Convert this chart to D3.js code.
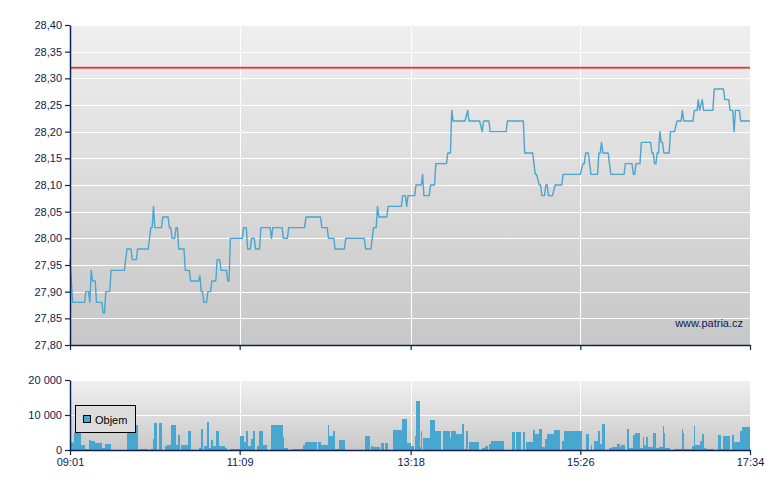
<!DOCTYPE html>
<html><head><meta charset="utf-8">
<script src="https://cdn.jsdelivr.net/npm/d3@7"></script>
<style>
html,body{margin:0;padding:0;background:#fff;}
svg{display:block;font-family:"Liberation Sans",Arial,sans-serif;}
</style></head>
<body>
<svg id="c" width="780" height="490"></svg>
<script>
// ---- DATA ----
const startTime = "09:01";
const xTickLabels = ["09:01","11:09","13:18","15:26","17:34"];
const xTickMinutes = [0,128,257,385,513];
const priceTicks = [27.80,27.85,27.90,27.95,28.00,28.05,28.10,28.15,28.20,28.25,28.30,28.35,28.40];
const volumeTicks = [0,10000,20000];
const referencePrice = 28.32;
const priceMin = [0,2,11,12,14,15,16,17,19,20,24,25,26,27,30,31,41,43,46,47,50,51,59,61,62,63,64,69,70,74,75,76,77,79,80,81,82,86,87,90,91,97,98,99,100,101,103,104,106,107,110,111,113,114,118,119,120,121,130,131,133,134,136,137,139,140,143,144,151,152,153,160,161,164,165,177,178,189,190,194,195,199,200,207,208,222,223,227,229,231,232,233,239,240,250,251,253,254,255,260,261,265,266,267,271,272,275,276,284,285,287,288,289,298,300,301,309,311,312,316,317,329,330,342,343,349,351,352,354,355,356,358,359,360,361,364,366,371,372,385,387,388,389,391,393,398,399,400,401,402,406,408,418,419,424,425,426,427,430,431,438,439,440,441,442,443,444,445,446,447,448,452,453,456,458,461,462,463,470,471,473,474,475,477,478,485,486,493,494,497,498,500,501,502,505,506,513];
const priceVal = [27.96,27.88,27.88,27.90,27.90,27.88,27.94,27.92,27.92,27.88,27.88,27.86,27.86,27.90,27.90,27.94,27.94,27.98,27.98,27.96,27.96,27.98,27.98,28.02,28.02,28.06,28.02,28.02,28.04,28.04,28.02,28.02,28.00,28.00,28.02,28.02,27.98,27.98,27.94,27.94,27.92,27.92,27.93,27.90,27.90,27.88,27.88,27.90,27.90,27.92,27.92,27.96,27.96,27.94,27.94,27.92,27.92,28.00,28.00,28.02,28.02,27.98,27.98,28.00,28.00,27.98,27.98,28.02,28.02,28.00,28.02,28.02,28.00,28.00,28.02,28.02,28.04,28.04,28.02,28.02,28.00,28.00,27.98,27.98,28.00,28.00,27.98,27.98,28.02,28.02,28.06,28.04,28.04,28.06,28.06,28.08,28.08,28.06,28.08,28.08,28.10,28.10,28.12,28.08,28.08,28.10,28.10,28.14,28.14,28.16,28.16,28.24,28.22,28.22,28.24,28.22,28.22,28.20,28.22,28.22,28.20,28.20,28.22,28.22,28.16,28.16,28.12,28.12,28.10,28.10,28.08,28.08,28.10,28.10,28.08,28.08,28.10,28.10,28.12,28.12,28.14,28.14,28.16,28.16,28.12,28.12,28.16,28.16,28.18,28.16,28.16,28.12,28.12,28.14,28.14,28.12,28.12,28.14,28.14,28.18,28.18,28.16,28.16,28.14,28.14,28.16,28.16,28.20,28.18,28.18,28.16,28.16,28.20,28.20,28.22,28.22,28.24,28.22,28.22,28.24,28.24,28.26,28.24,28.26,28.24,28.24,28.28,28.28,28.26,28.26,28.24,28.24,28.20,28.24,28.24,28.22,28.22];
// volume: each bar starts at volMin[i] and lasts until volMin[i+1]
const volMin = [1,2,3,8,11,14,15.6,16,19,24,26.5,31,43,44.5,47,51,52,59,60,62.5,63.5,65.5,67,69.5,71.5,73,76,80,81.5,83,84,89,91,97,99,100.5,101,103,105,106,108,110,112.5,117,118.5,121,128,131,133,134,136.5,138,139.5,141,142.5,145.5,148.5,151.5,160.5,161.5,164.5,167.5,176,177,186,187,189,194.5,195,198.5,200,203,207.5,222.5,226,227,228.5,231.5,234,234.5,237,237.5,240,243.5,250.5,254,257,259.5,260,261,264,265,265.5,266,271.5,275.5,280,281.5,286.5,287.5,291,296,297.5,299,300,301,308.5,310.5,313,315,316,317.5,327.5,333.5,335.5,336.5,340,341.5,343,344,349,351,354,356,358,360,365,369.5,371,373,386.5,389,391.5,393,394,395.5,398.5,400,401,401.5,403.5,407,409,413,415,416,419,420,421.5,425,426.5,430,432,433,434.5,436,439.5,442,444,447.5,448,449,452.5,456,461.5,462.5,463.5,469,471,471.5,475.5,476.5,478,480,486,489,491,493,498,499.5,501,505.5,507,513];
const volVal = [2300,1900,4900,1400,400,2900,5700,2600,1900,700,1700,0,6900,6300,7100,0,300,0,300,3100,7700,0,7700,0,1100,1400,7100,1400,4300,0,1400,5400,0,500,6000,0,1100,8000,700,2900,1100,5400,1100,700,0,300,4000,2300,5400,1100,3100,5400,0,1100,5400,1400,0,7100,3600,600,0,300,1300,2300,0,2300,1400,7100,4000,5400,400,2900,0,4000,0,1100,1000,800,0,2000,0,2000,0,5700,8900,2000,1100,0,4000,14000,800,5400,0,3400,8600,5400,0,5400,3400,5400,4600,7400,400,5400,0,2300,0,600,1100,0,1700,2600,0,5100,0,5100,0,5100,0,2300,5700,4600,6000,900,3100,4600,5700,0,2600,5400,0,4600,0,1300,0,2600,5400,1700,0,7400,0,600,900,1700,900,1400,0,6000,600,4300,4800,600,3700,1400,3700,900,4800,600,900,7000,5000,600,0,400,6100,5000,400,1100,7000,1500,2600,4600,600,400,0,4400,400,4000,0,4400,2300,5400,6600];

// ---- LAYOUT ----
const svg = d3.select("#c");
const L = 70, R = 750;
const pTop = 25, pBot = 345;
const vTop = 380, vBot = 450;
const navy = "#0b2252";
const lineCol = "#4aa5d0";

const x = d3.scaleLinear().domain([0,513]).range([L,R]);
const y = d3.scaleLinear().domain([27.80,28.40]).range([pBot,pTop]);
const yv = d3.scaleLinear().domain([0,20000]).range([vBot,vTop]);

const defs = svg.append("defs");
function grad(id, c1, c2){
  const g = defs.append("linearGradient").attr("id",id).attr("x1",0).attr("y1",0).attr("x2",0).attr("y2",1);
  g.append("stop").attr("offset","0%").attr("stop-color",c1);
  g.append("stop").attr("offset","100%").attr("stop-color",c2);
}
grad("gp","#efefef","#c7c7c7");
grad("gv","#f0f0f0","#c9c9c9");

svg.append("rect").attr("x",L).attr("y",pTop).attr("width",R-L).attr("height",pBot-pTop).attr("fill","url(#gp)");
svg.append("rect").attr("x",L).attr("y",vTop).attr("width",R-L).attr("height",vBot-vTop).attr("fill","url(#gv)");

// grid - price
const gP = svg.append("g").attr("stroke","#fff").attr("stroke-width",1).attr("shape-rendering","crispEdges");
gP.selectAll("line.h").data(priceTicks.slice(1)).join("line")
  .attr("x1",L).attr("x2",R).attr("y1",d=>Math.round(y(d))+0.5).attr("y2",d=>Math.round(y(d))+0.5);
gP.selectAll("line.v").data(xTickMinutes.slice(1,-1)).join("line")
  .attr("y1",pTop).attr("y2",pBot).attr("x1",d=>Math.round(x(d))+0.5).attr("x2",d=>Math.round(x(d))+0.5);
// grid - volume
const gV = svg.append("g").attr("stroke","#fff").attr("stroke-width",1).attr("shape-rendering","crispEdges");
gV.selectAll("line.h").data(volumeTicks.slice(1)).join("line")
  .attr("x1",L).attr("x2",R).attr("y1",d=>Math.round(yv(d))+0.5).attr("y2",d=>Math.round(yv(d))+0.5);
gV.selectAll("line.v").data(xTickMinutes.slice(1,-1)).join("line")
  .attr("y1",vTop).attr("y2",vBot).attr("x1",d=>Math.round(x(d))+0.5).attr("x2",d=>Math.round(x(d))+0.5);

// reference line
svg.append("line").attr("x1",L).attr("x2",R).attr("y1",y(referencePrice)).attr("y2",y(referencePrice))
  .attr("stroke","#ee5a5a").attr("stroke-width",2);
svg.append("line").attr("x1",L).attr("x2",R).attr("y1",y(referencePrice)).attr("y2",y(referencePrice))
  .attr("stroke","#dd2a2a").attr("stroke-width",0.8);

// price line
const pts = priceMin.map((m,i)=>[m,priceVal[i]]);
svg.append("path").datum(pts)
  .attr("d", d3.line().x(d=>x(d[0])).y(d=>y(d[1])))
  .attr("fill","none").attr("stroke",lineCol).attr("stroke-width",1.4).attr("stroke-linejoin","round");

// volume bars
const bars = volMin.slice(0,-1).map((m,i)=>({s:m,e:volMin[i+1],v:volVal[i]})).filter(d=>d.v>0);
svg.append("g").selectAll("rect").data(bars).join("rect")
  .attr("x",d=>x(d.s)).attr("width",d=>Math.max(0.8,x(d.e)-x(d.s)))
  .attr("y",d=>yv(d.v)).attr("height",d=>yv(0)-yv(d.v))
  .attr("fill","#47a7cf").attr("shape-rendering","crispEdges");

// axes
const fmtP = d=>d3.format(".2f")(d).replace(".",",");
const loc = d3.formatLocale({decimal:",",thousands:"\u00a0",grouping:[3],currency:["",""]});
const fmtV = loc.format(",d");

function styleAxis(g){
  g.selectAll("path.domain").attr("stroke",navy).attr("stroke-width",1.5);
  g.selectAll(".tick line").attr("stroke",navy).attr("stroke-width",1.2);
  g.selectAll("text").attr("fill",navy).attr("font-size","11px").attr("font-family","'Liberation Sans',Arial,sans-serif");
}
svg.append("g").attr("transform",`translate(${L},0)`)
  .call(d3.axisLeft(y).tickValues(priceTicks).tickFormat(fmtP).tickSize(5).tickSizeOuter(0).tickPadding(3))
  .call(styleAxis);
svg.append("g").attr("transform",`translate(0,${pBot})`)
  .call(d3.axisBottom(x).tickValues(xTickMinutes).tickFormat("").tickSize(5).tickSizeOuter(0))
  .call(styleAxis);
svg.append("g").attr("transform",`translate(${L},0)`)
  .call(d3.axisLeft(yv).tickValues(volumeTicks).tickFormat(fmtV).tickSize(5).tickSizeOuter(0).tickPadding(3))
  .call(styleAxis);
svg.append("g").attr("transform",`translate(0,${vBot})`)
  .call(d3.axisBottom(x).tickValues(xTickMinutes).tickFormat((d,i)=>xTickLabels[i]).tickSize(5).tickSizeOuter(0).tickPadding(3))
  .call(styleAxis);
svg.selectAll(".tick text").attr("font-size","11px");

// watermark
svg.append("text").attr("x",743).attr("y",327).attr("text-anchor","end")
  .attr("fill",navy).attr("font-size","11px").text("www.patria.cz");

// legend
const lg = svg.append("g");
lg.append("rect").attr("x",75.5).attr("y",405.5).attr("width",60).attr("height",27)
  .attr("fill","#dcdcdc").attr("stroke","#000").attr("stroke-width",1);
lg.append("rect").attr("x",83.5).attr("y",415.5).attr("width",7).attr("height",7)
  .attr("fill","#47a7cf").attr("stroke","#000").attr("stroke-width",1);
lg.append("text").attr("x",95).attr("y",423.5).attr("fill","#000").attr("font-size","11px").text("Objem");
</script>
</body></html>
